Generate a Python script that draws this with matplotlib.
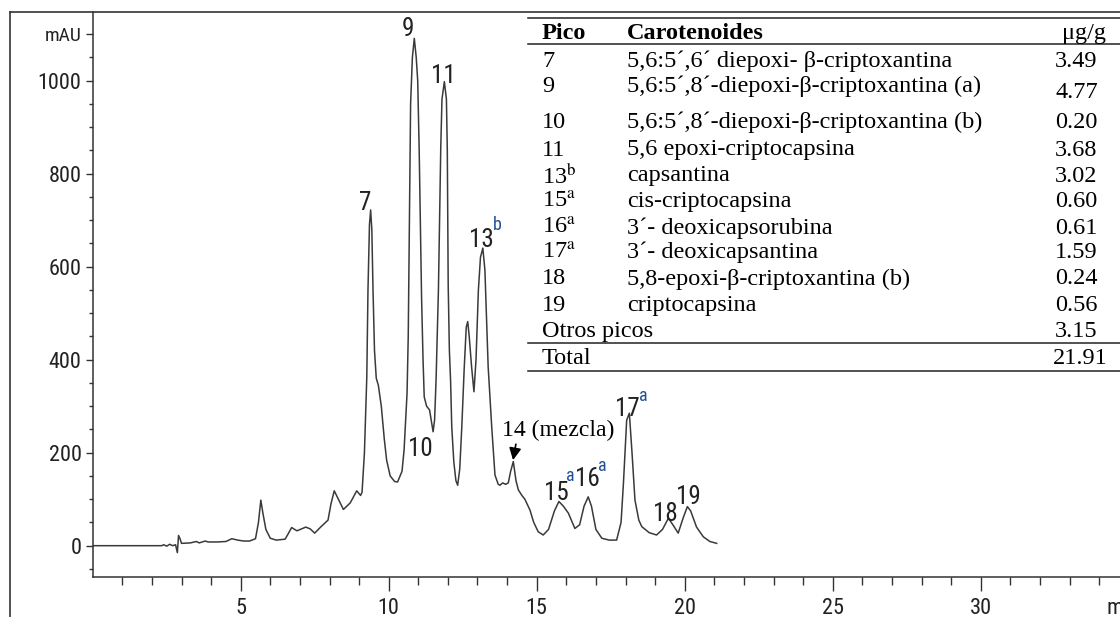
import matplotlib
matplotlib.use('Agg')
import matplotlib.pyplot as plt
from matplotlib.lines import Line2D
from matplotlib import font_manager
from matplotlib.font_manager import FontProperties
import numpy as np

# chromatogram trace (retention time in min, absorbance in mAU)
time_min = [0.0, 2.33, 2.4, 2.5, 2.6, 2.7, 2.8, 2.86, 2.9, 2.95, 3.0, 3.3, 3.5, 3.6, 3.8,
            3.9, 4.2, 4.5, 4.7, 4.9, 5.1, 5.3, 5.5, 5.6, 5.68, 5.75, 5.85, 6.0, 6.2, 6.5,
            6.6, 6.72, 6.9, 7.2, 7.35, 7.5, 7.7, 7.95, 8.05, 8.16, 8.3, 8.47, 8.7, 8.92,
            9.05, 9.1, 9.18, 9.26, 9.3, 9.35, 9.39, 9.43, 9.47, 9.52, 9.58, 9.65, 9.75,
            9.85, 9.93, 10.05, 10.2, 10.3, 10.45, 10.52, 10.62, 10.66, 10.70, 10.74, 10.80,
            10.865, 10.93, 10.98, 11.03, 11.08, 11.11, 11.16, 11.2, 11.28, 11.38, 11.45,
            11.5, 11.55, 11.6, 11.64, 11.68, 11.72, 11.76, 11.80, 11.88, 11.95, 11.98,
            12.01, 12.05, 12.09, 12.13, 12.2, 12.27, 12.33, 12.4, 12.47, 12.55, 12.62,
            12.67, 12.72, 12.8, 12.88, 12.95, 13.03, 13.1, 13.18, 13.25, 13.36, 13.48,
            13.59, 13.7, 13.76, 13.85, 13.95, 14.04, 14.12, 14.21, 14.3, 14.38, 14.5,
            14.6, 14.77, 14.9, 15.05, 15.22, 15.4, 15.6, 15.75, 15.9, 16.07, 16.29, 16.45,
            16.6, 16.74, 16.85, 17.0, 17.2, 17.45, 17.7, 17.85, 17.93, 18.04, 18.13, 18.22,
            18.32, 18.45, 18.55, 18.8, 19.05, 19.25, 19.45, 19.6, 19.78, 19.95, 20.09,
            20.2, 20.4, 20.63, 20.85, 21.08]
signal_mau = [0, 0, 2, -1, 3, 0, 2, -15, 22, 15, 5, 6, 9, 6, 10,
              8, 8, 9, 15, 12, 10, 10, 15, 50, 98, 70, 35, 16, 12, 14,
              25, 39, 32, 40, 36, 27, 40, 55, 90, 118, 100, 78, 92, 118,
              108, 115, 200, 363, 550, 690, 722, 680, 550, 420, 360, 345, 300,
              230, 184, 150, 138, 137, 160, 206, 328, 450, 700, 950, 1050,
              1091, 1050, 1000, 850, 650, 535, 400, 320, 300, 292, 265,
              245, 270, 356, 450, 550, 700, 860, 960, 998, 960, 850,
              560, 420, 356, 256, 180, 140, 130, 165, 256, 380, 470,
              482, 450, 385, 331, 400, 550, 620, 640, 593, 385, 256,
              152, 132, 130, 135, 132, 135, 160, 181, 140, 120, 108,
              100, 77, 50, 30, 23, 35, 75, 95, 85, 70, 37, 45,
              85, 105, 85, 35, 16, 12, 12, 50, 134, 270, 285, 200,
              98, 55, 41, 28, 23, 35, 59, 45, 27, 60, 84,
              75, 40, 19, 9, 5]

# peak labels: (text, time, mAU at baseline of label)
peak_labels = [('7', 9.2, 722), ('9', 10.65, 1096), ('11', 11.84, 995), ('13', 13.14, 643),
               ('10', 11.06, 192), ('15', 15.68, 99), ('16', 16.71, 128), ('17', 18.06, 279),
               ('18', 19.34, 53), ('19', 20.12, 89)]
# superscripts on peak labels: (text, time, mAU at centre)
peak_sups = [('b', 13.68, 690), ('a', 16.14, 150), ('a', 17.2, 171), ('a', 18.6, 322)]

# table
tab_pico = ['7', '9', '10', '11', '13$^{\\mathrm{b}}$', '15$^{\\mathrm{a}}$',
            '16$^{\\mathrm{a}}$', '17$^{\\mathrm{a}}$', '18', '19']
tab_carot = ['5,6:5\u00b4,6\u00b4 diepoxi- \u03b2-criptoxantina',
             '5,6:5\u00b4,8\u00b4-diepoxi-\u03b2-criptoxantina (a)',
             '5,6:5\u00b4,8\u00b4-diepoxi-\u03b2-criptoxantina (b)',
             '5,6 epoxi-criptocapsina', 'capsantina', 'cis-criptocapsina',
             '3\u00b4- deoxicapsorubina', '3\u00b4- deoxicapsantina',
             '5,8-epoxi-\u03b2-criptoxantina (b)', 'criptocapsina']
tab_ug = ['3.49', '4.77', '0.20', '3.68', '3.02', '0.60', '0.61', '1.59', '0.24', '0.56']
otros_ug = '3.15'
total_ug = '21.91'

W, H = 1120, 617
fig = plt.figure(figsize=(W / 100, H / 100), dpi=100)
plt.rcParams['mathtext.fontset'] = 'stix'

# look for a narrow sans font file, otherwise fall back to DejaVu Sans
narrow_file = None
for key in ['LiberationSansNarrow-Regular', 'ArialNarrow', 'Arial Narrow', 'RobotoCondensed-Regular',
            'Roboto_Condensed-Regular', 'OpenSans_Condensed-Regular', 'OpenSansCondensed',
            'NotoSans-Condensed.', 'NotoSans_Condensed-Regular', 'DejaVuSansCondensed.ttf']:
    for f in font_manager.fontManager.ttflist:
        if key in f.fname:
            narrow_file = f.fname
            break
    if narrow_file:
        break


def sans(size):
    if narrow_file:
        return FontProperties(fname=narrow_file, size=size)
    return FontProperties(family='DejaVu Sans', size=size * 0.85)


serif = ['Liberation Serif', 'DejaVu Serif']
gray = '#333333'


def px(x, y):
    return x / W, 1 - y / H


# axes placement in pixels
x0, x_axis_y, top = 92.7, 576.7, 12
ax = fig.add_axes([x0 / W, (H - x_axis_y) / H, 1 - x0 / W, (x_axis_y - top) / H])
ax.set_xlim(0, (W - x0) / 29.6)
ax.set_ylim(-66.7, 1147.7)
for s in ['top', 'right']:
    ax.spines[s].set_visible(False)
for s in ['left', 'bottom']:
    ax.spines[s].set_color(gray)
    ax.spines[s].set_linewidth(1.1)

ax.plot(time_min, signal_mau, color='#3a3a3a', lw=1.1)

ax.set_xticks([5, 10, 15, 20, 25, 30])
ax.set_xticks(np.arange(1, 35), minor=True)
ax.set_yticks([0, 200, 400, 600, 800, 1000, 1100])
ax.set_yticklabels(['0', '200', '400', '600', '800', '1000', 'mAU'])
ax.set_yticks(np.arange(-50, 1101, 50), minor=True)
ax.tick_params(axis='x', which='major', length=10, width=1.0, color=gray, pad=5,
               labelcolor='#222222')
ax.tick_params(axis='x', which='minor', length=6, width=1.0, color=gray)
ax.tick_params(axis='y', which='major', length=5, width=1.0, color=gray, pad=3,
               labelcolor='#222222')
ax.tick_params(axis='y', which='minor', length=3, width=1.0, color=gray)
for lab in ax.get_xticklabels() + ax.get_yticklabels():
    lab.set_fontproperties(sans(16))
ax.get_yticklabels()[-1].set_fontproperties(sans(14))
fig.text(*px(1106, 608), 'min', fontproperties=sans(16), color='#222222', va='center')

# peak labels
for txt, t, v in peak_labels:
    ax.text(t, v, txt, fontproperties=sans(18), color='#222222', ha='center', va='baseline')
for txt, t, v in peak_sups:
    ax.text(t, v, txt, fontproperties=sans(13), color='#1f4e9a', ha='center', va='center')

ax.annotate('14 (mezcla)', xy=(14.2, 184), xytext=(13.82, 247), family=serif, fontsize=17,
            color='black', ha='left', va='center',
            arrowprops=dict(arrowstyle='-|>', color='black', lw=1.2, mutation_scale=18,
                            shrinkA=0, shrinkB=0, relpos=(0.13, 0)))

# outer frame
fig.add_artist(Line2D([10 / W, 10 / W], [0, 1 - 12 / H], color=gray, lw=1.2))
fig.add_artist(Line2D([10 / W, 1], [1 - 12 / H, 1 - 12 / H], color=gray, lw=1.2))

# table rules
for yr in [18.3, 44.3, 343.3, 371]:
    fig.add_artist(Line2D([527.7 / W, 1], [1 - yr / H] * 2, color='#222222', lw=1.1))

c1, c2, c3 = 542, 627, 1055
tfs = 17.5
fig.text(*px(c1, 33.3), 'Pico', family=serif, fontsize=tfs, weight='bold', va='center')
fig.text(*px(c2, 33.3), 'Carotenoides', family=serif, fontsize=tfs, weight='bold', va='center')
fig.text(*px(1062, 33.3), '\u03bcg/g', family=serif, fontsize=tfs, va='center')
row_y = [61.7, 86, 122.7, 150, 176, 201.7, 228, 252.7, 279, 305]
for i, yv in enumerate(row_y):
    fig.text(*px(c1, yv), tab_pico[i], family=serif, fontsize=tfs, va='center')
    fig.text(*px(c2, yv), tab_carot[i], family=serif, fontsize=tfs, va='center')
    dy = 7 if i == 1 else 0
    fig.text(*px(c3, yv + dy), tab_ug[i], family=serif, fontsize=tfs, va='center')
fig.text(*px(c1, 331.7), 'Otros picos', family=serif, fontsize=tfs, va='center')
fig.text(*px(c3, 331.7), otros_ug, family=serif, fontsize=tfs, va='center')
fig.text(*px(c1, 358.3), 'Total', family=serif, fontsize=tfs, va='center')
fig.text(*px(c3 - 2, 358.3), total_ug, family=serif, fontsize=tfs, va='center')

fig.savefig('out.png', dpi=100)
